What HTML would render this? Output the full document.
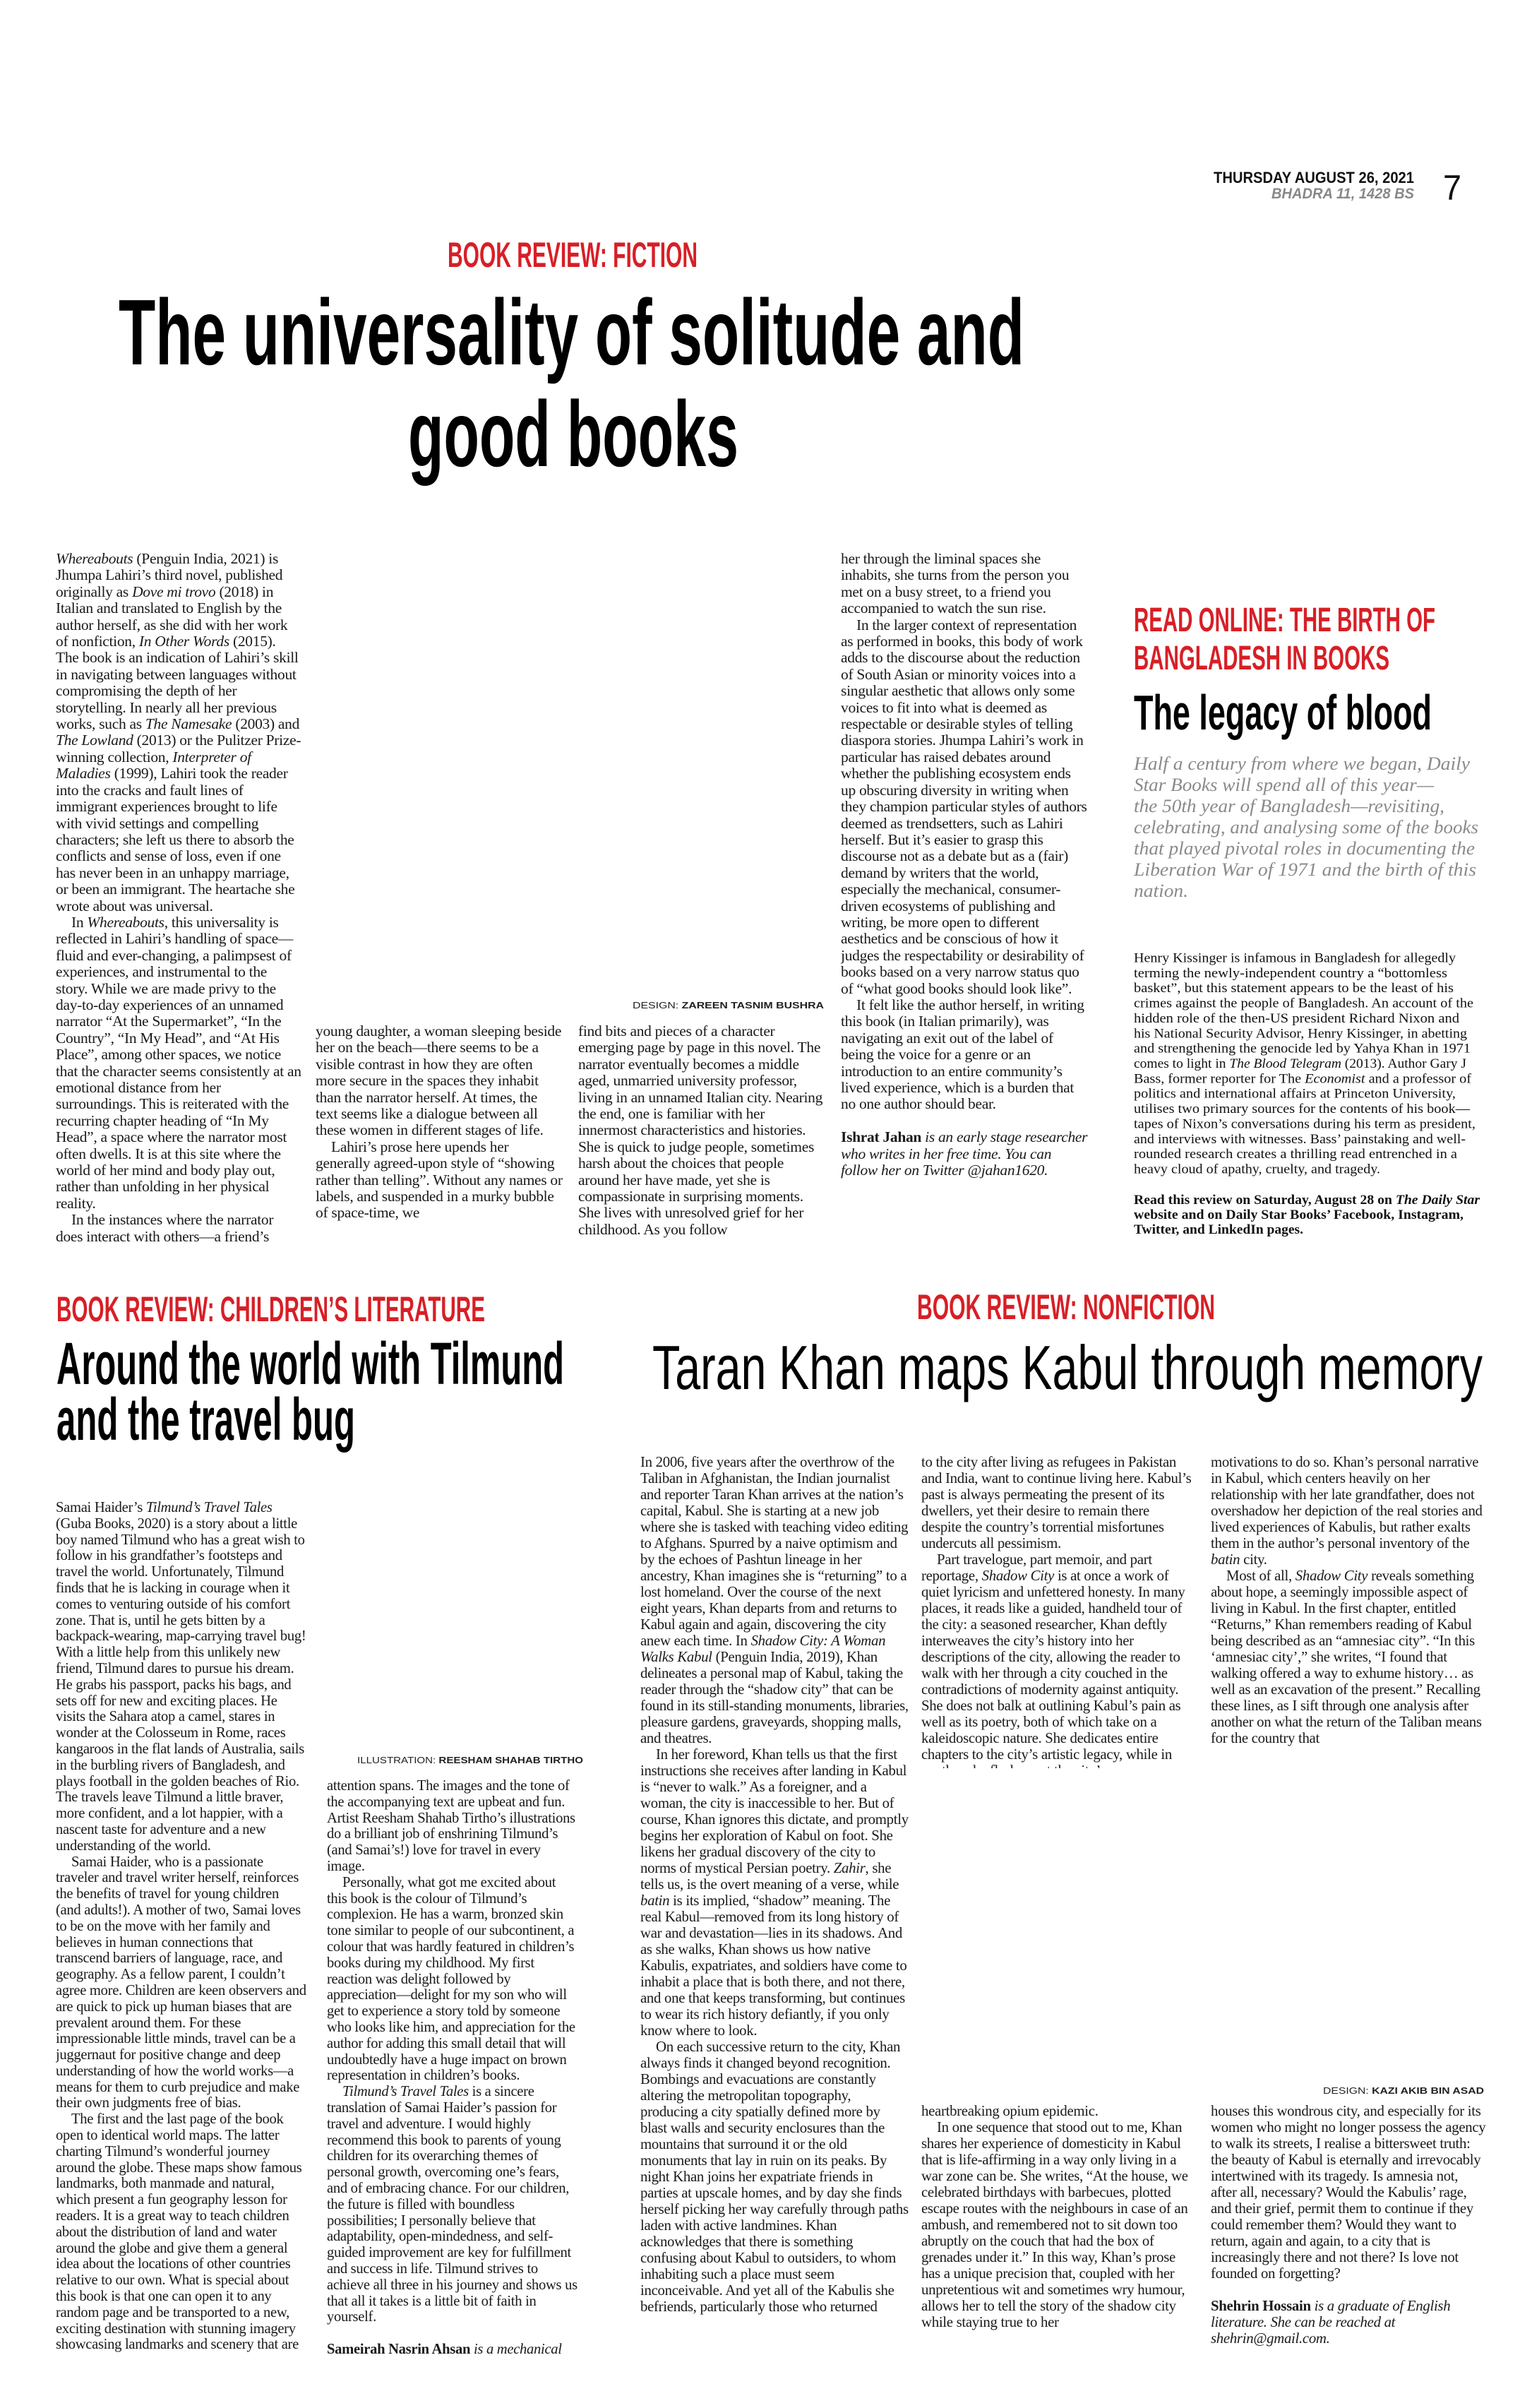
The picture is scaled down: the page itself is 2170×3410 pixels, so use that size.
<!DOCTYPE html>
<html><head><meta charset="utf-8">
<style>
html,body{margin:0;padding:0;background:#fff;}
body{width:2170px;height:3410px;position:relative;overflow:hidden;}
.c{position:absolute;font-family:"Liberation Serif",serif;font-size:21.5px;line-height:23.4px;color:#1a1a1a;overflow:hidden;letter-spacing:-0.3px;}
.c p{margin:0;text-indent:22px;}
.c p.f{text-indent:0;}
.c p.bio{text-indent:0;margin-top:23.4px;}
.k{line-height:22.8px;font-size:20.6px;}
.n{font-size:20.8px;line-height:23px;}
svg{position:absolute;left:0;top:0;}
.hd{font-family:"Liberation Sans Narrow","Liberation Sans",sans-serif;font-weight:bold;}
</style></head><body>

<svg width="2170" height="3410" viewBox="0 0 2170 3410">
<g class="hd">
<text x="1719" y="259" font-size="22" textLength="284" lengthAdjust="spacingAndGlyphs" fill="#111">THURSDAY AUGUST 26, 2021</text>
<text x="1801" y="281" font-size="21" font-style="italic" textLength="202" lengthAdjust="spacingAndGlyphs" fill="#888">BHADRA 11, 1428 BS</text>
<text x="2044" y="283" font-size="50" font-weight="normal" textLength="26" lengthAdjust="spacingAndGlyphs" fill="#111">7</text>
<text x="634" y="378" font-size="50" textLength="354" lengthAdjust="spacingAndGlyphs" fill="#d71f26">BOOK REVIEW: FICTION</text>
<text x="168" y="516" font-size="132" textLength="1283" lengthAdjust="spacingAndGlyphs" fill="#000">The universality of solitude and</text>
<text x="578" y="660" font-size="132" textLength="468" lengthAdjust="spacingAndGlyphs" fill="#000">good books</text>
<text x="80" y="1871" font-size="50" textLength="607" lengthAdjust="spacingAndGlyphs" fill="#d71f26">BOOK REVIEW: CHILDREN’S LITERATURE</text>
<text x="80" y="1960" font-size="84" textLength="719" lengthAdjust="spacingAndGlyphs" fill="#000">Around the world with Tilmund</text>
<text x="80" y="2039" font-size="84" textLength="423" lengthAdjust="spacingAndGlyphs" fill="#000">and the travel bug</text>
<text x="1299" y="1868" font-size="50" textLength="422" lengthAdjust="spacingAndGlyphs" fill="#d71f26">BOOK REVIEW: NONFICTION</text>
<text x="924" y="1967" font-size="88" font-weight="normal" textLength="1176" lengthAdjust="spacingAndGlyphs" fill="#000">Taran Khan maps Kabul through memory</text>
</g>
<g font-family="Liberation Sans, sans-serif" font-size="13" fill="#222">
<text x="896" y="1428" textLength="271" lengthAdjust="spacingAndGlyphs">DESIGN: <tspan font-weight="bold">ZAREEN TASNIM BUSHRA</tspan></text>
<text x="506" y="2497" textLength="320" lengthAdjust="spacingAndGlyphs">ILLUSTRATION: <tspan font-weight="bold">REESHAM SHAHAB TIRTHO</tspan></text>
<text x="1874" y="2965" textLength="228" lengthAdjust="spacingAndGlyphs">DESIGN: <tspan font-weight="bold">KAZI AKIB BIN ASAD</tspan></text>
</g>
<g font-family="Liberation Sans, sans-serif" font-weight="bold">
<text x="1606" y="894" font-size="48" textLength="427" lengthAdjust="spacingAndGlyphs" fill="#d71f26">READ ONLINE: THE BIRTH OF</text>
<text x="1606" y="948" font-size="48" textLength="362" lengthAdjust="spacingAndGlyphs" fill="#d71f26">BANGLADESH IN BOOKS</text>
<text x="1606" y="1033" font-size="70" textLength="422" lengthAdjust="spacingAndGlyphs" fill="#000">The legacy of blood</text>
</g>
<g font-family="Liberation Serif, serif" font-style="italic" font-size="26" fill="#8a8a8a">
<text x="1606" y="1090" textLength="476" lengthAdjust="spacingAndGlyphs">Half a century from where we began, Daily</text>
<text x="1606" y="1120" textLength="425" lengthAdjust="spacingAndGlyphs">Star Books will spend all of this year—</text>
<text x="1606" y="1150" textLength="440" lengthAdjust="spacingAndGlyphs">the 50th year of Bangladesh—revisiting,</text>
<text x="1606" y="1180" textLength="488" lengthAdjust="spacingAndGlyphs">celebrating, and analysing some of the books</text>
<text x="1606" y="1210" textLength="483" lengthAdjust="spacingAndGlyphs">that played pivotal roles in documenting the</text>
<text x="1606" y="1240" textLength="485" lengthAdjust="spacingAndGlyphs">Liberation War of 1971 and the birth of this</text>
<text x="1606" y="1270" textLength="77" lengthAdjust="spacingAndGlyphs">nation.</text>
</g>
<g font-family="Liberation Serif, serif" font-size="19" fill="#111">
<text x="1606" y="1362.5" textLength="456" lengthAdjust="spacingAndGlyphs">Henry Kissinger is infamous in Bangladesh for allegedly</text>
<text x="1606" y="1383.9" textLength="444" lengthAdjust="spacingAndGlyphs">terming the newly-independent country a “bottomless</text>
<text x="1606" y="1405.2" textLength="453" lengthAdjust="spacingAndGlyphs">basket”, but this statement appears to be the least of his</text>
<text x="1606" y="1426.6" textLength="481" lengthAdjust="spacingAndGlyphs">crimes against the people of Bangladesh. An account of the</text>
<text x="1606" y="1447.9" textLength="461" lengthAdjust="spacingAndGlyphs">hidden role of the then-US president Richard Nixon and</text>
<text x="1606" y="1469.3" textLength="472" lengthAdjust="spacingAndGlyphs">his National Security Advisor, Henry Kissinger, in abetting</text>
<text x="1606" y="1490.7" textLength="477" lengthAdjust="spacingAndGlyphs">and strengthening the genocide led by Yahya Khan in 1971</text>
<text x="1606" y="1512.0" textLength="471" lengthAdjust="spacingAndGlyphs">comes to light in <tspan font-style="italic">The Blood Telegram</tspan> (2013). Author Gary J</text>
<text x="1606" y="1533.4" textLength="478" lengthAdjust="spacingAndGlyphs">Bass, former reporter for The <tspan font-style="italic">Economist</tspan> and a professor of</text>
<text x="1606" y="1554.7" textLength="456" lengthAdjust="spacingAndGlyphs">politics and international affairs at Princeton University,</text>
<text x="1606" y="1576.1" textLength="476" lengthAdjust="spacingAndGlyphs">utilises two primary sources for the contents of his book—</text>
<text x="1606" y="1597.5" textLength="484" lengthAdjust="spacingAndGlyphs">tapes of Nixon’s conversations during his term as president,</text>
<text x="1606" y="1618.8" textLength="470" lengthAdjust="spacingAndGlyphs">and interviews with witnesses. Bass’ painstaking and well-</text>
<text x="1606" y="1640.2" textLength="458" lengthAdjust="spacingAndGlyphs">rounded research creates a thrilling read entrenched in a</text>
<text x="1606" y="1661.6" textLength="349" lengthAdjust="spacingAndGlyphs">heavy cloud of apathy, cruelty, and tragedy.</text>
<g font-weight="bold">
<text x="1606" y="1705" textLength="490" lengthAdjust="spacingAndGlyphs">Read this review on Saturday, August 28 on <tspan font-style="italic">The Daily Star</tspan></text>
<text x="1606" y="1726" textLength="467" lengthAdjust="spacingAndGlyphs">website and on Daily Star Books’ Facebook, Instagram,</text>
<text x="1606" y="1747" textLength="240" lengthAdjust="spacingAndGlyphs">Twitter, and LinkedIn pages.</text>
</g>
</g>
</svg>

<!-- Fiction -->
<div class="c" style="left:79px;top:780px;width:348px;height:980px;">
<p class="f"><i>Whereabouts</i> (Penguin India, 2021) is Jhumpa Lahiri’s third novel, published originally as <i>Dove mi trovo</i> (2018) in Italian and translated to English by the author herself, as she did with her work of nonfiction, <i>In Other Words</i> (2015). The book is an indication of Lahiri’s skill in navigating between languages without compromising the depth of her storytelling. In nearly all her previous works, such as <i>The Namesake</i> (2003) and <i>The Lowland</i> (2013) or the Pulitzer Prize-winning collection, <i>Interpreter of Maladies</i> (1999), Lahiri took the reader into the cracks and fault lines of immigrant experiences brought to life with vivid settings and compelling characters; she left us there to absorb the conflicts and sense of loss, even if one has never been in an unhappy marriage, or been an immigrant. The heartache she wrote about was universal.</p>
<p>In <i>Whereabouts</i>, this universality is reflected in Lahiri’s handling of space—fluid and ever-changing, a palimpsest of experiences, and instrumental to the story. While we are made privy to the day-to-day experiences of an unnamed narrator “At the Supermarket”, “In the Country”, “In My Head”, and “At His Place”, among other spaces, we notice that the character seems consistently at an emotional distance from her surroundings. This is reiterated with the recurring chapter heading of “In My Head”, a space where the narrator most often dwells. It is at this site where the world of her mind and body play out, rather than unfolding in her physical reality.</p>
<p>In the instances where the narrator does interact with others—a friend’s</p>
</div>
<div class="c" style="left:447px;top:1449px;width:350px;height:312px;">
<p class="f">young daughter, a woman sleeping beside her on the beach—there seems to be a visible contrast in how they are often more secure in the spaces they inhabit than the narrator herself. At times, the text seems like a dialogue between all these women in different stages of life.</p>
<p>Lahiri’s prose here upends her generally agreed-upon style of “showing rather than telling”. Without any names or labels, and suspended in a murky bubble of space-time, we</p>
</div>
<div class="c" style="left:819px;top:1449px;width:350px;height:312px;">
<p class="f">find bits and pieces of a character emerging page by page in this novel. The narrator eventually becomes a middle aged, unmarried university professor, living in an unnamed Italian city. Nearing the end, one is familiar with her innermost characteristics and histories. She is quick to judge people, sometimes harsh about the choices that people around her have made, yet she is compassionate in surprising moments. She lives with unresolved grief for her childhood. As you follow</p>
</div>
<div class="c" style="left:1191px;top:780px;width:350px;height:980px;">
<p class="f">her through the liminal spaces she inhabits, she turns from the person you met on a busy street, to a friend you accompanied to watch the sun rise.</p>
<p>In the larger context of representation as performed in books, this body of work adds to the discourse about the reduction of South Asian or minority voices into a singular aesthetic that allows only some voices to fit into what is deemed as respectable or desirable styles of telling diaspora stories. Jhumpa Lahiri’s work in particular has raised debates around whether the publishing ecosystem ends up obscuring diversity in writing when they champion particular styles of authors deemed as trendsetters, such as Lahiri herself. But it’s easier to grasp this discourse not as a debate but as a (fair) demand by writers that the world, especially the mechanical, consumer-driven ecosystems of publishing and writing, be more open to different aesthetics and be conscious of how it judges the respectability or desirability of books based on a very narrow status quo of “what good books should look like”.</p>
<p>It felt like the author herself, in writing this book (in Italian primarily), was navigating an exit out of the label of being the voice for a genre or an introduction to an entire community’s lived experience, which is a burden that no one author should bear.</p>
<p class="bio"><b>Ishrat Jahan</b> <i>is an early stage researcher who writes in her free time. You can follow her on Twitter @jahan1620.</i></p>
</div>

<!-- Children's -->
<div class="c k" style="left:79px;top:2124px;width:355px;height:1210px;">
<p class="f">Samai Haider’s <i>Tilmund’s Travel Tales</i> (Guba Books, 2020) is a story about a little boy named Tilmund who has a great wish to follow in his grandfather’s footsteps and travel the world. Unfortunately, Tilmund finds that he is lacking in courage when it comes to venturing outside of his comfort zone. That is, until he gets bitten by a backpack-wearing, map-carrying travel bug! With a little help from this unlikely new friend, Tilmund dares to pursue his dream. He grabs his passport, packs his bags, and sets off for new and exciting places. He visits the Sahara atop a camel, stares in wonder at the Colosseum in Rome, races kangaroos in the flat lands of Australia, sails in the burbling rivers of Bangladesh, and plays football in the golden beaches of Rio. The travels leave Tilmund a little braver, more confident, and a lot happier, with a nascent taste for adventure and a new understanding of the world.</p>
<p>Samai Haider, who is a passionate traveler and travel writer herself, reinforces the benefits of travel for young children (and adults!). A mother of two, Samai loves to be on the move with her family and believes in human connections that transcend barriers of language, race, and geography. As a fellow parent, I couldn’t agree more. Children are keen observers and are quick to pick up human biases that are prevalent around them. For these impressionable little minds, travel can be a juggernaut for positive change and deep understanding of how the world works—a means for them to curb prejudice and make their own judgments free of bias.</p>
<p>The first and the last page of the book open to identical world maps. The latter charting Tilmund’s wonderful journey around the globe. These maps show famous landmarks, both manmade and natural, which present a fun geography lesson for readers. It is a great way to teach children about the distribution of land and water around the globe and give them a general idea about the locations of other countries relative to our own. What is special about this book is that one can open it to any random page and be transported to a new, exciting destination with stunning imagery showcasing landmarks and scenery that are native to that region—a feature that makes <i>Tilmund’s Travel Tales</i> a perfect companion for children who have short</p>
</div>
<div class="c k" style="left:463px;top:2518px;width:355px;height:816px;">
<p class="f">attention spans. The images and the tone of the accompanying text are upbeat and fun. Artist Reesham Shahab Tirtho’s illustrations do a brilliant job of enshrining Tilmund’s (and Samai’s!) love for travel in every image.</p>
<p>Personally, what got me excited about this book is the colour of Tilmund’s complexion. He has a warm, bronzed skin tone similar to people of our subcontinent, a colour that was hardly featured in children’s books during my childhood. My first reaction was delight followed by appreciation—delight for my son who will get to experience a story told by someone who looks like him, and appreciation for the author for adding this small detail that will undoubtedly have a huge impact on brown representation in children’s books.</p>
<p><i>Tilmund’s Travel Tales</i> is a sincere translation of Samai Haider’s passion for travel and adventure. I would highly recommend this book to parents of young children for its overarching themes of personal growth, overcoming one’s fears, and of embracing chance. For our children, the future is filled with boundless possibilities; I personally believe that adaptability, open-mindedness, and self-guided improvement are key for fulfillment and success in life. Tilmund strives to achieve all three in his journey and shows us that all it takes is a little bit of faith in yourself.</p>
<p class="bio"><b>Sameirah Nasrin Ahsan</b> <i>is a mechanical engineer and aspiring author. Instagram: @booksnher.</i></p>
</div>

<!-- Nonfiction -->
<div class="c n" style="left:907px;top:2059px;width:382px;height:1275px;">
<p class="f">In 2006, five years after the overthrow of the Taliban in Afghanistan, the Indian journalist and reporter Taran Khan arrives at the nation’s capital, Kabul. She is starting at a new job where she is tasked with teaching video editing to Afghans. Spurred by a naive optimism and by the echoes of Pashtun lineage in her ancestry, Khan imagines she is “returning” to a lost homeland. Over the course of the next eight years, Khan departs from and returns to Kabul again and again, discovering the city anew each time. In <i>Shadow City: A Woman Walks Kabul</i> (Penguin India, 2019), Khan delineates a personal map of Kabul, taking the reader through the “shadow city” that can be found in its still-standing monuments, libraries, pleasure gardens, graveyards, shopping malls, and theatres.</p>
<p>In her foreword, Khan tells us that the first instructions she receives after landing in Kabul is “never to walk.” As a foreigner, and a woman, the city is inaccessible to her. But of course, Khan ignores this dictate, and promptly begins her exploration of Kabul on foot. She likens her gradual discovery of the city to norms of mystical Persian poetry. <i>Zahir</i>, she tells us, is the overt meaning of a verse, while <i>batin</i> is its implied, “shadow” meaning. The real Kabul—removed from its long history of war and devastation—lies in its shadows. And as she walks, Khan shows us how native Kabulis, expatriates, and soldiers have come to inhabit a place that is both there, and not there, and one that keeps transforming, but continues to wear its rich history defiantly, if you only know where to look.</p>
<p>On each successive return to the city, Khan always finds it changed beyond recognition. Bombings and evacuations are constantly altering the metropolitan topography, producing a city spatially defined more by blast walls and security enclosures than the mountains that surround it or the old monuments that lay in ruin on its peaks. By night Khan joins her expatriate friends in parties at upscale homes, and by day she finds herself picking her way carefully through paths laden with active landmines. Khan acknowledges that there is something confusing about Kabul to outsiders, to whom inhabiting such a place must seem inconceivable. And yet all of the Kabulis she befriends, particularly those who returned</p>
</div>
<div class="c n" style="left:1305px;top:2059px;width:384px;height:445px;">
<p class="f">to the city after living as refugees in Pakistan and India, want to continue living here. Kabul’s past is always permeating the present of its dwellers, yet their desire to remain there despite the country’s torrential misfortunes undercuts all pessimism.</p>
<p>Part travelogue, part memoir, and part reportage, <i>Shadow City</i> is at once a work of quiet lyricism and unfettered honesty. In many places, it reads like a guided, handheld tour of the city: a seasoned researcher, Khan deftly interweaves the city’s history into her descriptions of the city, allowing the reader to walk with her through a city couched in the contradictions of modernity against antiquity. She does not balk at outlining Kabul’s pain as well as its poetry, both of which take on a kaleidoscopic nature. She dedicates entire chapters to the city’s artistic legacy, while in another she fleshes out the city’s</p>
</div>
<div class="c n" style="left:1715px;top:2059px;width:390px;height:445px;">
<p class="f">motivations to do so. Khan’s personal narrative in Kabul, which centers heavily on her relationship with her late grandfather, does not overshadow her depiction of the real stories and lived experiences of Kabulis, but rather exalts them in the author’s personal inventory of the <i>batin</i> city.</p>
<p>Most of all, <i>Shadow City</i> reveals something about hope, a seemingly impossible aspect of living in Kabul. In the first chapter, entitled “Returns,” Khan remembers reading of Kabul being described as an “amnesiac city”. “In this ‘amnesiac city’,” she writes, “I found that walking offered a way to exhume history… as well as an excavation of the present.” Recalling these lines, as I sift through one analysis after another on what the return of the Taliban means for the country that</p>
</div>
<div class="c n" style="left:1305px;top:2978px;width:384px;height:356px;">
<p class="f">heartbreaking opium epidemic.</p>
<p>In one sequence that stood out to me, Khan shares her experience of domesticity in Kabul that is life-affirming in a way only living in a war zone can be. She writes, “At the house, we celebrated birthdays with barbecues, plotted escape routes with the neighbours in case of an ambush, and remembered not to sit down too abruptly on the couch that had the box of grenades under it.” In this way, Khan’s prose has a unique precision that, coupled with her unpretentious wit and sometimes wry humour, allows her to tell the story of the shadow city while staying true to her</p>
</div>
<div class="c n" style="left:1715px;top:2978px;width:390px;height:356px;">
<p class="f">houses this wondrous city, and especially for its women who might no longer possess the agency to walk its streets, I realise a bittersweet truth: the beauty of Kabul is eternally and irrevocably intertwined with its tragedy. Is amnesia not, after all, necessary? Would the Kabulis’ rage, and their grief, permit them to continue if they could remember them? Would they want to return, again and again, to a city that is increasingly there and not there? Is love not founded on forgetting?</p>
<p class="bio"><b>Shehrin Hossain</b> <i>is a graduate of English literature. She can be reached at shehrin@gmail.com.</i></p>
</div>

</body></html>
